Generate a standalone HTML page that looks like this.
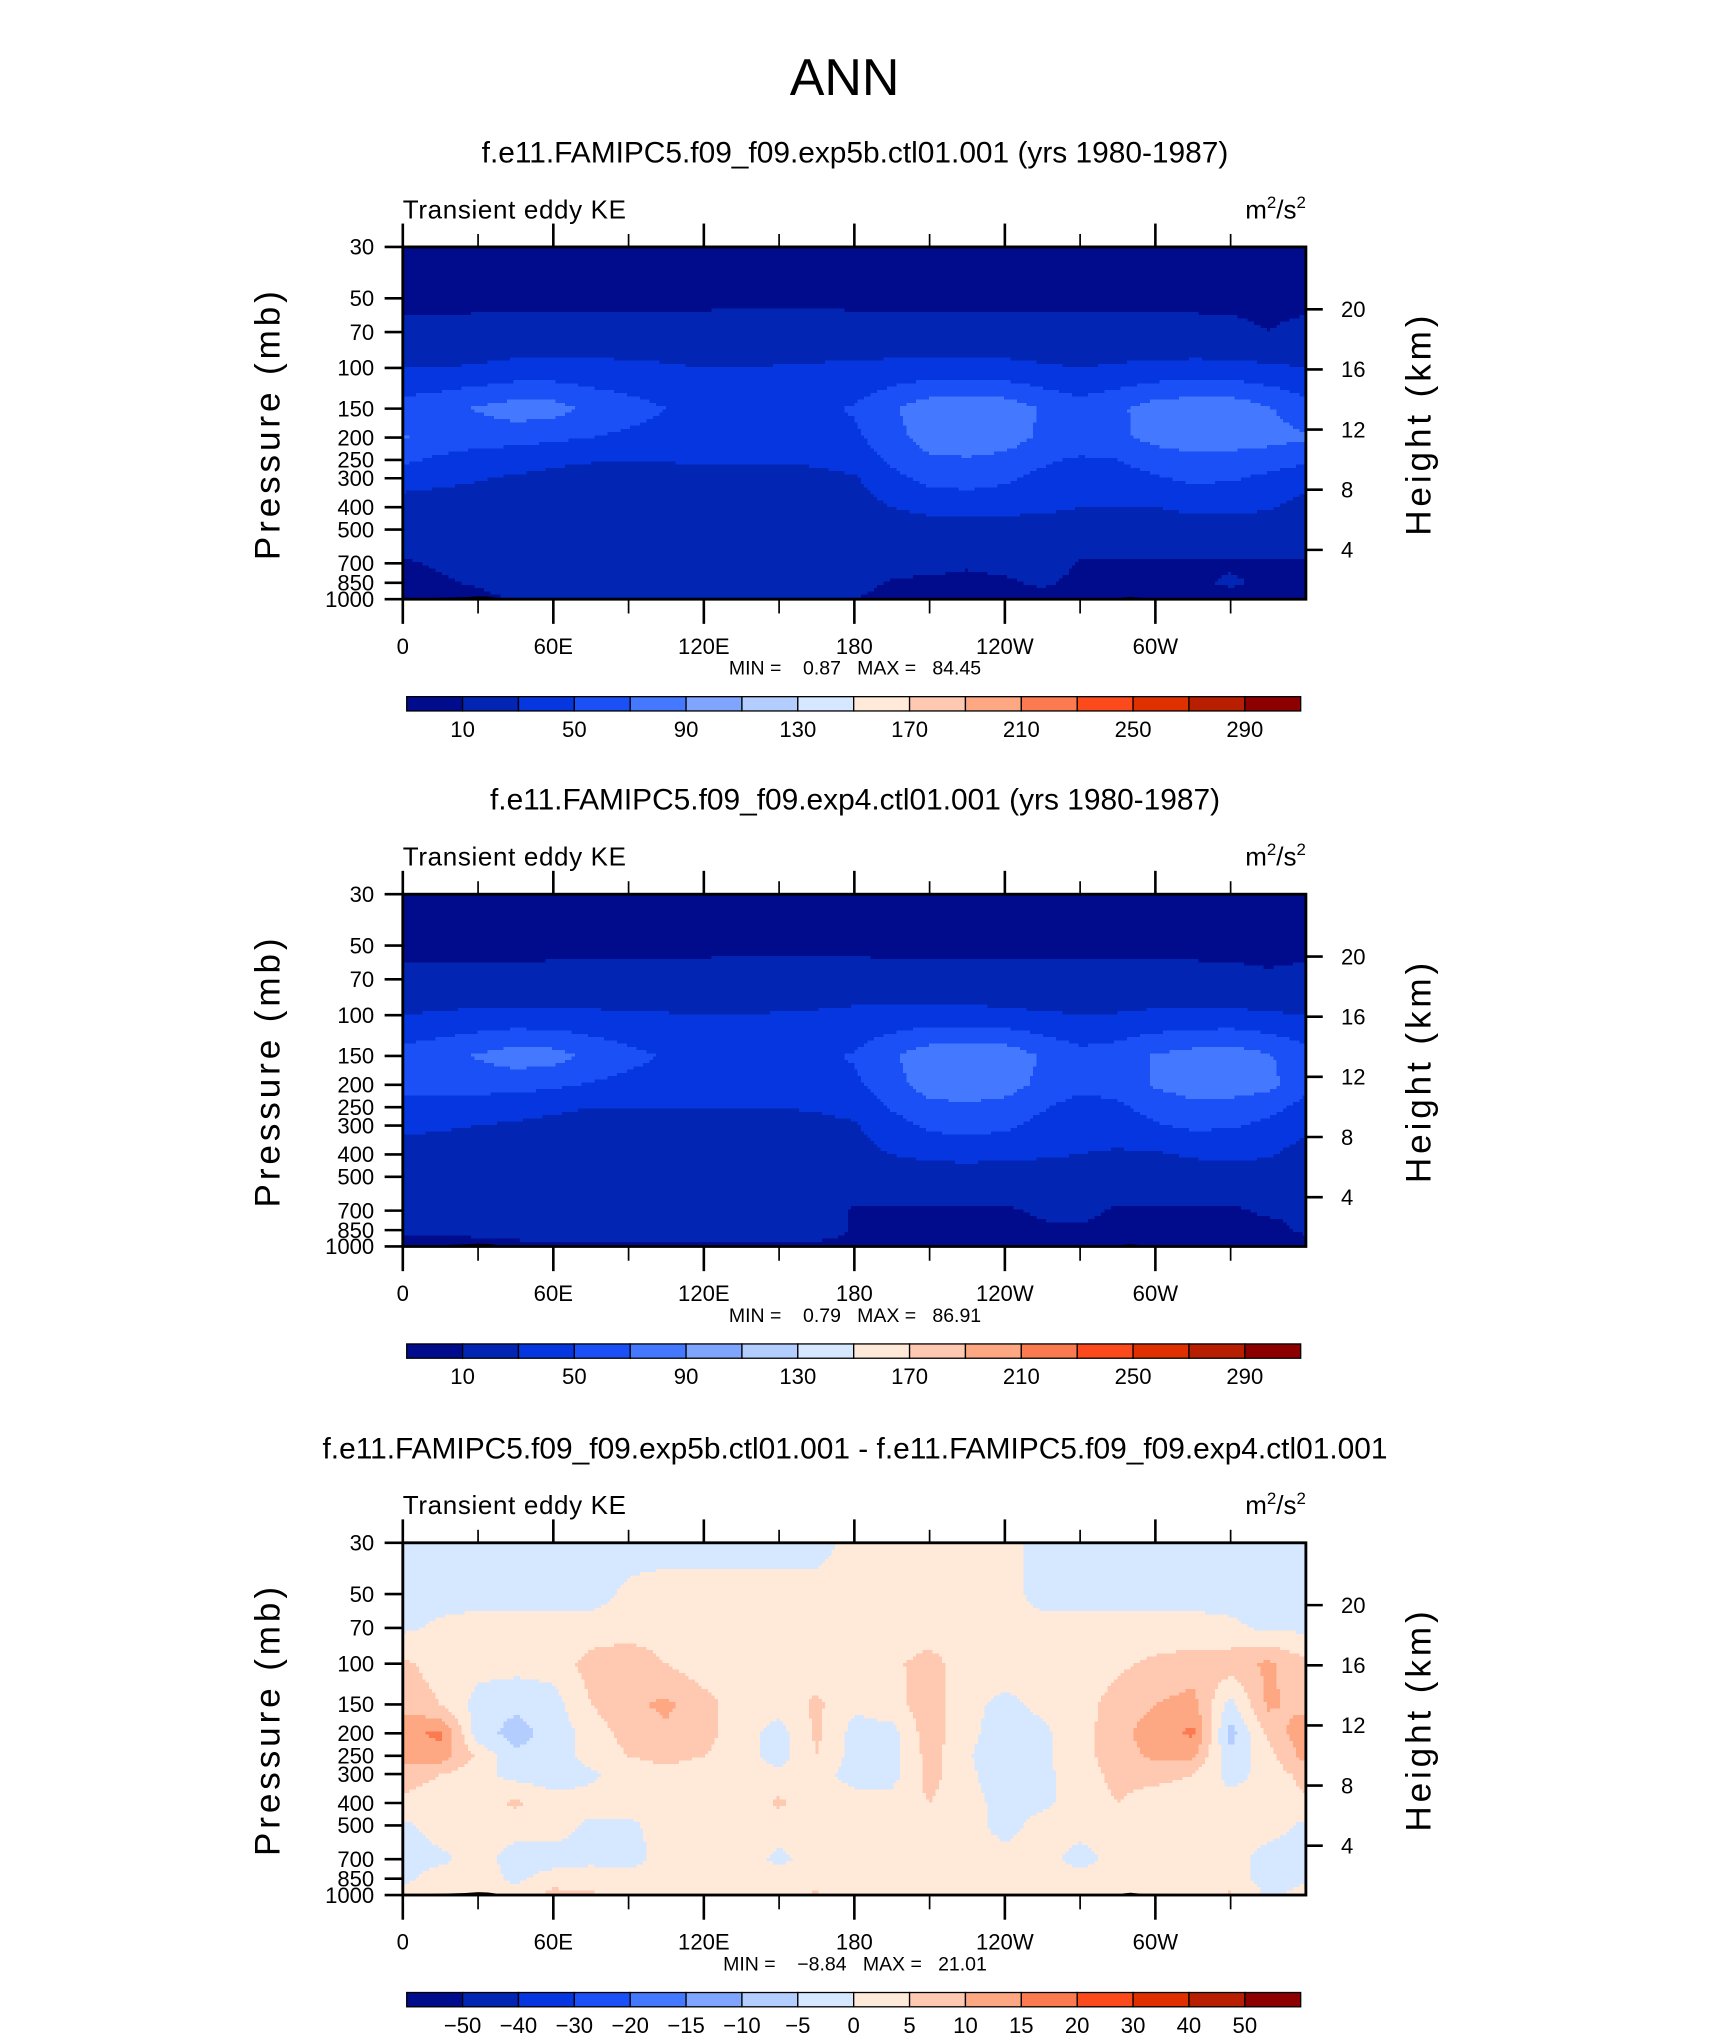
<!DOCTYPE html>
<html><head><meta charset="utf-8"><style>
html,body{margin:0;padding:0;background:#fff}
svg{display:block}
text{font-family:"Liberation Sans","DejaVu Sans",sans-serif;fill:#000}
</style></head><body>
<svg id="chart" width="1710" height="2038" viewBox="0 0 1316 1568" preserveAspectRatio="none" xmlns="http://www.w3.org/2000/svg">
<text x="650" y="73" font-size="40" text-anchor="middle" fill="#333">ANN</text>
</svg>
<script>
const lons=[0,15,30,45,60,75,90,105,120,135,150,165,180,195,210,225,240,255,270,285,300,315,330,345];
const levels=[30,50,70,100,150,200,250,300,400,500,700,850,1000];
const lonTickLabels=['0','60E','120E','180','120W','60W'];
const presTickLabels=[30,50,70,100,150,200,250,300,400,500,700,850,1000];
const heightTickLabels=[4,8,12,16,20];
const absLevels=[10,30,50,70,90,110,130,150,170,190,210,230,250,270,290];
const absLevelLabels=['10','','50','','90','','130','','170','','210','','250','','290'];
const diffLevels=[-50,-40,-30,-20,-15,-10,-5,0,5,10,15,20,30,40,50];
const diffLevelLabels=['\u221250','\u221240','\u221230','\u221220','\u221215','\u221210','\u22125','0','5','10','15','20','30','40','50'];
const palette=['#000c8c','#0325b3','#0536df','#1a50f5','#4479ff','#7fa5ff','#b4cdff','#d6e8ff','#ffe9d8','#fec9b0','#fda783','#fc7a50','#fc4a1c','#e03000','#b81e00','#8c0000'];
const titles=['f.e11.FAMIPC5.f09_f09.exp5b.ctl01.001 (yrs 1980-1987)','f.e11.FAMIPC5.f09_f09.exp4.ctl01.001 (yrs 1980-1987)','f.e11.FAMIPC5.f09_f09.exp5b.ctl01.001 - f.e11.FAMIPC5.f09_f09.exp4.ctl01.001'];
const minVals=['0.87','0.79','\u22128.84'];
const maxVals=['84.45','86.91','21.01'];
const topoLon=[10,18,25,30,34,37,287,290,295,310];
const topoP=[990,985,980,972,975,985,985,978,988,990];
const F20=[20,20,19,20,21,21,20,20,20,20,21,21,21,20,20,20,20,21,20,20,20,21,21,20];
const field1=[
[4,4,4,4,4,4,4,4,4,4,4,4,4,4,4,4,4,4,4,4,4,4,4,4],
[6,6,6,6,6,6,6,6,6,6,6,6,6,6,6,6,6,6,6,6,6,6,6,6],
[14,14,15,16,16,16,17,17,17,18,18,18,17,16,15,15,16,16,16,16,16,15,14,10],
[30,30,32,35,36,35,34,32,30,30,31,32,33,35,37,37,35,32,30,32,34,35,35,33],
[58,64,72,80,78,66,58,50,46,45,45,46,52,68,82,86,82,68,58,66,80,84,84,72],
[72,62,58,58,54,50,46,43,41,41,41,42,46,62,80,84,80,66,70,66,76,82,82,78],
[54,46,42,37,33,31,31,31,32,32,31,33,38,54,66,68,64,54,46,50,60,64,62,58],
[38,34,31,28,26,25,25,24,24,25,25,25,28,44,56,58,54,44,38,40,48,54,52,46],
[22,22,22,22,22,22,22,22,22,22,22,22,22,30,36,38,36,34,30,30,30,34,34,32],
F20,
[8,12,16,20,20,20,20,20,20,20,20,20,20,18,16,12,14,18,9,8,8,8,8,8],
[6,8,12,18,20,20,20,20,20,20,20,20,16,8,6,6,8,12,6,7,7,7,12,7],
[5,5,5,12,16,14,12,12,12,12,12,12,10,5,5,5,5,5,5,5,5,5,5,5]];
const field2=[
[4,4,4,4,4,4,4,4,4,4,4,4,4,4,4,4,4,4,4,4,4,4,4,4],
[6,6,6,6,6,6,6,6,6,6,6,6,6,6,6,6,6,6,6,6,6,6,6,6],
[14,14,14,14,15,15,16,17,17,18,19,19,18,16,15,15,15,15,16,16,16,15,14,12],
[30,32,34,35,34,33,32,31,30,30,31,32,34,36,37,36,34,32,30,31,33,34,34,32],
[58,64,72,80,78,66,56,48,44,44,44,46,52,68,82,86,84,68,56,60,72,78,82,72],
[56,60,58,58,54,48,44,42,40,40,40,42,46,62,80,84,80,64,56,58,72,80,82,76],
[44,42,40,36,33,30,30,30,31,31,30,32,36,52,64,66,62,52,42,46,58,64,62,56],
[34,32,30,28,26,25,25,24,24,25,25,25,28,42,54,58,54,44,36,38,48,54,52,46],
[22,22,22,22,22,22,22,22,22,22,22,22,24,30,34,36,34,32,30,28,28,32,34,32],
F20,
[12,14,18,20,20,20,20,20,20,20,20,20,8,8,8,8,8,12,14,8,8,8,8,12],
[12,12,14,18,20,20,20,20,20,20,20,20,8,6,6,6,6,8,8,6,6,6,6,6],
[5,5,5,5,5,5,5,5,5,5,5,5,5,5,5,5,5,5,5,5,5,5,5,5]];
const field3=[
[-2,-2,-2,-2,-2,-2,-2,-2,-2,-2,-2,-2,2,2,2,2,2,-2,-2,-2,-2,-2,-2,-2],
[-2,-2,-2,-2,-2,-2,1,2,2,2,2,2,2,2,2,2,2,-2,-2,-2,-2,-2,-2,-2],
[-1,1,2,2,2,2,2,2,2,2,2,2,2,2,2,2,2,2,2,2,2,2,1,-1],
[6,3,2,2,2,7,9,5,2,2,2,2,2,4,7,2,2,2,2,4,6,7,8,11],
[8,5,-2,-4,-2,5,9,11,7,2,2,6,1,3,8,1,-1,1,3,7,10,12,-2,11],
[14,16,-3,-7,-3,2,7,9,7,2,-2,6,-2,-2,8,1,-2,-1,3,8,13,16,-7,6],
[12,13,4,-4,-3,2,5,7,5,2,-2,5,-2,-2,7,0.5,-3,-1,3,8,11,11,-4,3],
[7,5,2,-2,-3,-1,2,3,2,2,1,2,-2,-2,7,1,-3,-1,2,7,7,5,-2,2],
[4,3,2,6,2,2,2,2,2,2,6,2,2,2,5,2,-2,-1,2,5,2,2,2,2],
[-1,2,2,2,2,-1,-1,2,2,2,2,2,2,2,2,2,-2,2,2,2,2,2,2,2],
[-2,-1,2,-2,-2,-1,-2,2,2,2,-1,2,2,2,2,2,2,2,-2,2,2,2,2,-2],
[-1,2,2,-1,2,2,2,2,2,2,2,2,2,2,2,2,2,2,2,2,2,2,2,-2],
[2,2,2,2,7,6,2,2,2,2,2,6,2,2,2,2,2,2,2,2,2,2,6,-1]];

const NS='http://www.w3.org/2000/svg';
const svg=document.getElementById('chart');
const PX0=310,PX1=1005,PH=271,PTOP=190;
const offsets=[0,498,997];
function mk(tag,attrs,parent){const e=document.createElementNS(NS,tag);for(const k in attrs)e.setAttribute(k,attrs[k]);(parent||svg).appendChild(e);return e;}
function xOf(lon){return PX0+(lon/360)*(PX1-PX0);}
function yOf(p,off){return off+PTOP+Math.log(p/30)/Math.log(1000/30)*PH;}
function pOfY(y,off){return 30*Math.exp((y-off-PTOP)/PH*Math.log(1000/30));}
function yOfZ(z,off){const p=1114*Math.exp(-z/6.68);return yOf(p,off);}
function colorIdx(v,lv){let i=0;while(i<lv.length&&v>=lv[i])i++;return i;}
function sample(field,lon,p){
  let li=lon/15;let i0=Math.floor(li);let fx=li-i0;i0=((i0%24)+24)%24;const i1=(i0+1)%24;
  const lp=Math.log(p);let j=0;
  if(p<=levels[0])return field[0][i0]*(1-fx)+field[0][i1]*fx;
  if(p>=levels[12])return field[12][i0]*(1-fx)+field[12][i1]*fx;
  while(j<11&&p>levels[j+1])j++;
  const fy=(lp-Math.log(levels[j]))/(Math.log(levels[j+1])-Math.log(levels[j]));
  const a=field[j][i0]*(1-fx)+field[j][i1]*fx,b=field[j+1][i0]*(1-fx)+field[j+1][i1]*fx;
  return a*(1-fy)+b*fy;
}
const fields=[field1,field2,field3];
const lvSets=[absLevels,absLevels,diffLevels];
const lbSets=[absLevelLabels,absLevelLabels,diffLevelLabels];
for(let k=0;k<3;k++){
  const off=offsets[k];
  const g=mk('g',{});
  
  
  const t=mk('text',{x:658,y:off+125,'font-size':23,'text-anchor':'middle'},g);t.textContent=titles[k];
  
  const ls=mk('text',{x:PX0,y:off+168,'font-size':20,'letter-spacing':'0.5','fill':'#222'},g);ls.textContent='Transient eddy KE';
  
  const rs=mk('text',{x:PX1,y:off+168,'font-size':20,'text-anchor':'end','fill':'#222'},g);
  rs.innerHTML='m<tspan dy="-8" font-size="13">2</tspan><tspan dy="8">/s</tspan><tspan dy="-8" font-size="13">2</tspan>';
  
  const fg=mk('g',{'shape-rendering':'crispEdges'},g);
  
  const step=2.5;
  for(let y=off+PTOP;y<off+PTOP+PH;y+=step){
    const p=pOfY(y+step/2,off);
    let runStart=PX0,runC=-1;
    for(let x=PX0;x<=PX1;x+=step){
      let c=-2;
      if(x<PX1){const lon=(x+step/2-PX0)/(PX1-PX0)*360;c=colorIdx(sample(fields[k],lon,p),lvSets[k]);}
      if(c!==runC){
        if(runC>=0){const r=mk('rect',{x:runStart,y:y,width:Math.min(x,PX1)-runStart+0.6,height:Math.min(step+0.6,off+PTOP+PH-y),fill:palette[runC]},fg);
          }
        runStart=x;runC=c;
      }
    }
  }
  let tp='';topoLon.forEach((ln,i)=>{tp+=`${xOf(ln)},${yOf(topoP[i],off)} `;});
  const topo=mk('polygon',{points:`${xOf(topoLon[0])},${yOf(1000,off)} `+tp.split(' ').slice(0,6).join(' ')+` ${xOf(topoLon[5])},${yOf(1000,off)}`,fill:'#000'},g);
  
  const topo2=mk('polygon',{points:`${xOf(topoLon[6])},${yOf(1000,off)} `+tp.split(' ').slice(6,10).join(' ')+` ${xOf(topoLon[9])},${yOf(1000,off)}`,fill:'#000'},g);
  
  const fr=mk('rect',{x:PX0,y:off+PTOP,width:PX1-PX0,height:PH,fill:'none',stroke:'#000','stroke-width':2.2},g);
  
  for(let i=0;i<=12;i++){
    const x=xOf(i*30),maj=i%2===0;
    if(i<12){
      const a=mk('line',{x1:x,x2:x,y1:off+PTOP,y2:off+PTOP-(maj?18:10),stroke:'#000','stroke-width':maj?2:1.3},g);
      
      const b=mk('line',{x1:x,x2:x,y1:off+PTOP+PH,y2:off+PTOP+PH+(maj?19:11),stroke:'#000','stroke-width':maj?2:1.3},g);
      
    }
    if(maj&&i<12){const tl=mk('text',{x:x,y:off+503,'font-size':17,'text-anchor':'middle'},g);tl.textContent=lonTickLabels[i/2];
      }
  }
  presTickLabels.forEach(p=>{const y=yOf(p,off);
    const l=mk('line',{x1:PX0-14,x2:PX0,y1:y,y2:y,stroke:'#000','stroke-width':2},g);
    
    const tl=mk('text',{x:PX0-22,y:y+6,'font-size':17,'text-anchor':'end'},g);tl.textContent=p;
    });
  heightTickLabels.forEach(z=>{const y=yOfZ(z,off);
    const l=mk('line',{x1:PX1,x2:PX1+13,y1:y,y2:y,stroke:'#000','stroke-width':2},g);
    
    const tl=mk('text',{x:PX1+27,y:y+6,'font-size':17},g);tl.textContent=z;
    });
  const yl=mk('text',{x:0,y:0,'font-size':27,'text-anchor':'middle','letter-spacing':'3',transform:`translate(215,${off+326}) rotate(-90)`,fill:'#222'},g);
  yl.textContent='Pressure (mb)';
  const yr=mk('text',{x:0,y:0,'font-size':27,'text-anchor':'middle','letter-spacing':'3',transform:`translate(1101,${off+326}) rotate(-90)`,fill:'#222'},g);
  yr.textContent='Height (km)';
  const mm=mk('text',{x:658,y:off+519,'font-size':15,'text-anchor':'middle',style:'white-space:pre'},g);
  mm.textContent=`MIN =    ${minVals[k]}   MAX =   ${maxVals[k]}`;
  
  const cb=mk('g',{},g);
  const bw=(1001-313)/16;
  palette.forEach((c,i)=>{const r=mk('rect',{x:313+i*bw,y:off+536,width:bw,height:11,fill:c,stroke:'#000','stroke-width':1},cb);
    });
  lbSets[k].forEach((lb,i)=>{if(!lb)return;const tl=mk('text',{x:313+(i+1)*bw,y:off+567,'font-size':17,'text-anchor':'middle'},cb);tl.textContent=lb;
    });
}
</script>
</body></html>
